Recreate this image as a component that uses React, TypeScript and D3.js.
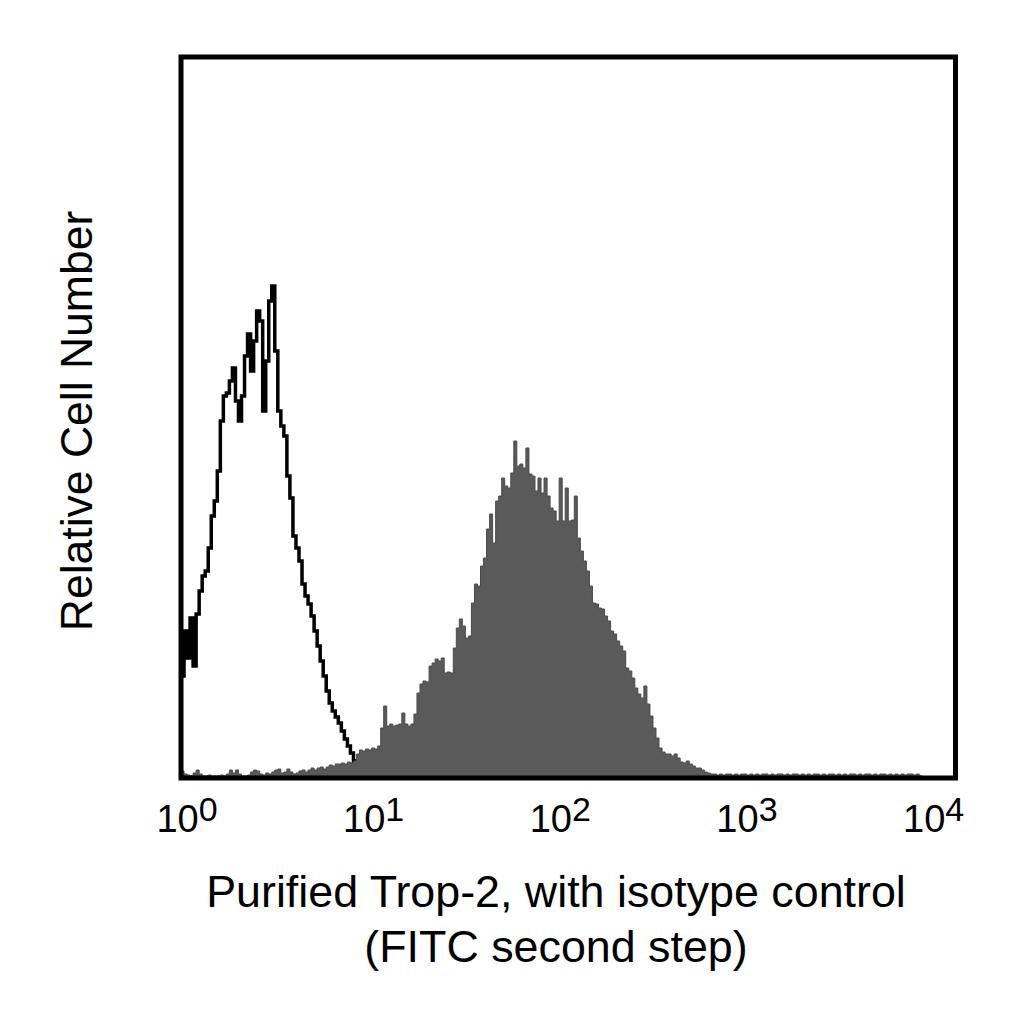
import * as d3 from "d3";

// flow histogram, 64 channels per decade, 4 decades
const CHANNELS_PER_DECADE = 64;

const DECADES = [1, 10, 100, 1000, 10000];
const DECADE_BASE = ["10", "10", "10", "10", "10"];
const DECADE_EXP = ["0", "1", "2", "3", "4"];

const X_TITLE = ["Purified Trop-2, with isotype control", "(FITC second step)"];
const Y_TITLE = "Relative Cell Number";

// isotype control (open, black outline), from channel 0
const isotypeCounts = [
  100, 145, 118, 158, 110, 162, 185, 200, 205, 228,
  260, 275, 305, 355, 380, 383, 395, 408, 375, 355,
  380, 420, 442, 405, 435, 465, 455, 365, 415, 475,
  490, 425, 365, 350, 340, 300, 278, 240, 228, 215,
  192, 180, 172, 160, 145, 130, 115, 100, 85, 73,
  65, 59, 53, 45, 37, 30, 23, 15, 9, 5,
  2, 0,
];

// Trop-2 stained (filled grey), from channel 0
const trop2Counts = [
  5, 2, 1, 0, 3, 6, 2, 0, 0, 1,
  0, 0, 0, 1, 0, 2, 6, 3, 6, 2,
  0, 0, 1, 4, 6, 5, 2, 1, 3, 2,
  4, 6, 7, 3, 4, 7, 4, 2, 3, 5,
  6, 4, 6, 8, 6, 8, 9, 7, 9, 11,
  10, 12, 12, 13, 12, 14, 13, 15, 22, 26,
  25, 27, 26, 28, 27, 30, 48, 70, 50, 52,
  50, 51, 52, 63, 52, 50, 52, 62, 83, 92,
  95, 94, 110, 113, 117, 115, 118, 103, 104, 103,
  128, 148, 157, 150, 138, 140, 173, 192, 190, 210,
  218, 247, 262, 233, 275, 280, 298, 290, 288, 303,
  335, 310, 312, 308, 328, 302, 300, 285, 298, 283,
  298, 280, 268, 265, 255, 298, 255, 288, 255, 256,
  280, 238, 225, 215, 205, 190, 173, 172, 168, 167,
  160, 155, 145, 142, 135, 130, 125, 108, 105, 98,
  88, 82, 78, 90, 72, 60, 48, 38, 28, 24,
  22, 22, 20, 22, 18, 14, 13, 15, 12, 10,
  8, 8, 6, 4, 3, 2, 2, 1, 2, 1,
  2, 2, 1, 2, 1, 2, 2, 1, 2, 1,
  2, 1, 2, 2, 1, 2, 1, 2, 2, 1,
  2, 1, 2, 2, 1, 2, 1, 2, 1, 2,
  2, 1, 2, 1, 2, 2, 1, 2, 1, 2,
  1, 2, 2, 1, 2, 1, 2, 2, 1, 2,
  1, 2, 2, 1, 2, 1, 2, 1, 2, 1,
  2, 2, 1, 2, 0,
];

interface Bin {
  i: number;
  c: number;
}

const FONT = "'Liberation Sans', Arial, Helvetica, sans-serif";
const frame = { left: 181, right: 955.5, top: 57, bottom: 778 };

function toSteps(counts: number[]): Bin[] {
  const bins = counts.map((c, i) => ({ i, c }));
  bins.push({ i: counts.length, c: counts[counts.length - 1] });
  return bins;
}

export default function App() {
  const width = 1024;
  const height = 1024;

  const x = d3.scaleLog().domain([1, 10000]).range([frame.left, frame.right]);
  const y = d3.scaleLinear().domain([0, 716]).range([776, 60]);

  const edge = (i: number) => x(Math.pow(10, i / CHANNELS_PER_DECADE));

  const area = d3
    .area<Bin>()
    .x((d) => edge(d.i))
    .y0(y(0))
    .y1((d) => y(d.c))
    .curve(d3.curveStepAfter);

  const line = d3
    .line<Bin>()
    .x((d) => edge(d.i))
    .y((d) => y(d.c))
    .curve(d3.curveStepAfter);

  // tick labels sit slightly inward of the decade positions
  const labelX = (v: number) => 187 + (x(v) - frame.left) * 0.964;

  return (
    <svg
      width={width}
      height={height}
      viewBox={`0 0 ${width} ${height}`}
      style={{ position: "absolute", left: 0, top: 0, background: "#fff" }}
      fontFamily={FONT}
    >
      <rect x={0} y={0} width={width} height={height} fill="#fff" />

      {/* isotype control outline */}
      <path
        d={line(toSteps(isotypeCounts)) ?? ""}
        fill="none"
        stroke="#000"
        strokeWidth={3.5}
        strokeLinejoin="miter"
      />

      {/* Trop-2 filled histogram */}
      <path
        d={area(toSteps(trop2Counts)) ?? ""}
        fill="#5a5a5a"
        stroke="#4a4a4a"
        strokeWidth={1}
      />

      <rect
        x={frame.left}
        y={frame.top}
        width={frame.right - frame.left}
        height={frame.bottom - frame.top}
        fill="none"
        stroke="#000"
        strokeWidth={5}
      />

      {DECADES.map((v, i) => (
        <text key={v} x={labelX(v)} y={832} textAnchor="middle" fontSize={38} fill="#000">
          {DECADE_BASE[i]}
          <tspan fontSize={34} dy={-11}>
            {DECADE_EXP[i]}
          </tspan>
        </text>
      ))}

      <text x={556} y={907} textAnchor="middle" fontSize={44.8} fill="#000">
        {X_TITLE[0]}
      </text>
      <text x={556} y={962} textAnchor="middle" fontSize={44.8} fill="#000">
        {X_TITLE[1]}
      </text>

      <text
        transform={`translate(92, 421) rotate(-90)`}
        textAnchor="middle"
        fontSize={44.5}
        fill="#000"
      >
        {Y_TITLE}
      </text>
    </svg>
  );
}
